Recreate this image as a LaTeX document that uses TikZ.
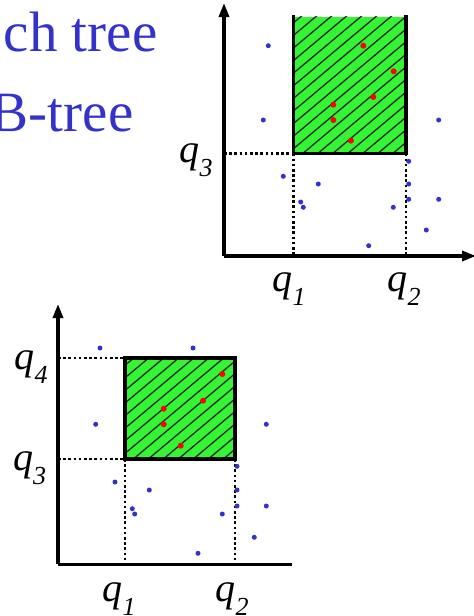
\documentclass[tikz,border=0pt]{standalone}
\usepackage{fontspec}
\setmainfont{Liberation Serif}
\usetikzlibrary{arrows.meta}
\definecolor{ttlblue}{RGB}{51,51,204}
\definecolor{dotblue}{RGB}{51,51,204}
\definecolor{boxgreen}{RGB}{51,245,51}
\newcommand{\qlab}[1]{{\fontsize{40}{40}\selectfont\itshape q\raisebox{-14pt}{\fontsize{26}{26}\selectfont #1}}}
\tikzset{
  axis/.style={line width=3.2pt,-{Triangle[length=14pt,width=10pt]}},
  plainaxis/.style={line width=3.2pt},
  guide/.style={line width=2.8pt,dash pattern=on 2.6pt off 2.6pt},
  border/.style={line width=3.2pt},
  hatch/.style={line width=1.3pt,black!85},
  bdot/.style={fill=dotblue,draw=none},
  rdot/.style={fill=red,draw=none},
  lbl/.style={inner sep=0pt,anchor=base west},
  ttl/.style={inner sep=0pt,anchor=base east,text=ttlblue,font=\fontsize{57}{57}\selectfont}
}
\begin{document}
\begin{tikzpicture}[x=1pt,y=-1pt]
\useasboundingbox (0,0) rectangle (474,616);
% title text
\node[ttl] (t1) at (157.5,51.7) {ch tree};
\node[ttl] (t2) at (133.5,131.7) {B-tree};

% ---------- top plot ----------
\coordinate (O1) at (224,256);
\coordinate (Y1) at (224,3);
\coordinate (X1) at (476,256);
\fill[boxgreen] (293.3,16.5) rectangle (406,153.3);
\begin{scope}
  \clip (293.3,16.5) rectangle (406,153.3);
  \foreach \i in {-10,...,30} {
    \draw[hatch] (280+\i*15,160) -- ++(250,{-250*tan(40)});
  }
\end{scope}
\draw[border] (293.3,15) -- (293.3,153.3) -- (406,153.3) -- (406,15);
\draw[guide] (224,153.3) -- (293.3,153.3);
\draw[guide] (293.3,153.3) -- (293.3,256);
\draw[guide] (406,153.3) -- (406,256);
\draw[plainaxis] (224,256) -- (224,12);
\draw[axis] (O1) -- (Y1);
\draw[axis] (O1) -- (X1);
\foreach \x/\y in {268.3/45.7,263.3/120,438.7/120,283.3/176.3,318.3/184,300.7/202,303.3/207.3,408.7/161.3,408.7/184,408.7/199.3,438.7/199.3,393.3/207.3,426.3/230,368.7/245.7}
  \fill[bdot] (\x,\y) circle (2.5pt);
\foreach \x/\y in {363.3/45.7,393.7/71.3,373.3/97,333.3/104.7,333.3/120,351/140.7}
  \fill[rdot] (\x,\y) circle (3pt);
\node[lbl] (a3) at (179.5,162.6) {\qlab{3}};
\node[lbl] (a1) at (272.5,291) {\qlab{1}};
\node[lbl] (a2) at (387.5,291) {\qlab{2}};

% ---------- bottom plot ----------
\coordinate (O2) at (58,564.3);
\coordinate (Y2) at (58,304);
\coordinate (X2) at (292,564.3);
\fill[boxgreen] (125,358) rectangle (235,459);
\begin{scope}
  \clip (125,358) rectangle (235,459);
  \foreach \i in {-10,...,20} {
    \draw[hatch] (110+\i*15,466) -- ++(250,{-250*tan(40)});
  }
\end{scope}
\draw[border] (125,358) rectangle (235,459);
\draw[guide] (58,358) -- (125,358);
\draw[guide] (58,459) -- (125,459);
\draw[guide] (125,459) -- (125,564.3);
\draw[guide] (235,459) -- (235,564.3);
\draw[axis] (O2) -- (Y2);
\draw[plainaxis] (O2) -- (X2);
\foreach \x/\y in {100/348,193/348,95.7/424.3,266.3/424.3,115/482,149.3/490,132.3/508.7,134.7/514,237/466.3,237/490,237/506,266.3/506,222.3/514,254.3/537.3,198/553.3}
  \fill[bdot] (\x,\y) circle (2.5pt);
\foreach \x/\y in {222.3/374,203/400.7,163.7/408.7,163.7/424.3,180.7/445.7}
  \fill[rdot] (\x,\y) circle (3pt);
\node[lbl] (b4) at (14.5,369.3) {\qlab{4}};
\node[lbl] (b3) at (13,470.6) {\qlab{3}};
\node[lbl] (b1) at (102.5,601) {\qlab{1}};
\node[lbl] (b2) at (215.5,601) {\qlab{2}};
\end{tikzpicture}
\end{document}
